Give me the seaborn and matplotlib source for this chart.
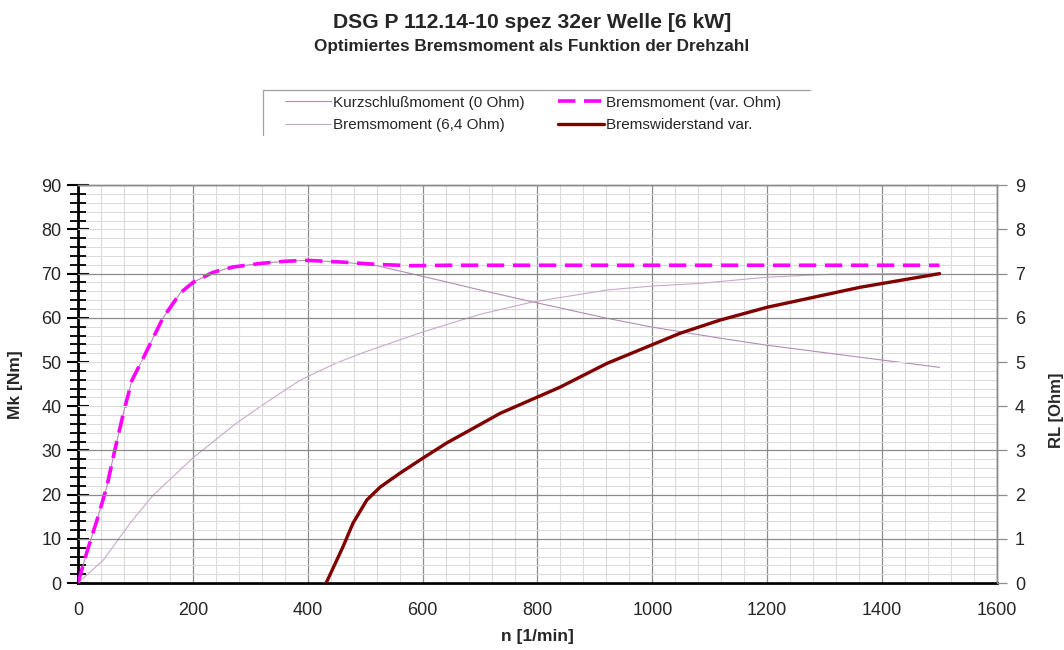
import numpy as np
import pandas as pd
import matplotlib
matplotlib.use("Agg")
import matplotlib.pyplot as plt
from matplotlib.lines import Line2D
from matplotlib.ticker import MultipleLocator
import seaborn as sns

# Bremsmoment bei optimiertem (variablem) Lastwiderstand [Nm]
n_var = [0, 15, 33, 50, 64, 79, 94, 114, 148, 178, 200, 235, 270, 317, 360, 400,
         462, 520, 578, 650, 800, 1000, 1200, 1400, 1500]
m_var = [0, 6.8, 14.2, 21.7, 30.0, 38.4, 45.9, 51.0, 60.0, 65.6, 68.0, 70.3, 71.5,
         72.3, 72.8, 73.0, 72.6, 72.1, 71.8, 71.9, 71.9, 71.9, 71.9, 71.9, 71.9]

# Kurzschlussmoment (0 Ohm) [Nm]
n_ks = [0, 15, 33, 50, 64, 79, 94, 114, 148, 178, 200, 235, 270, 317, 360, 400,
        462, 520, 580, 665, 700, 792, 921, 1000, 1118, 1200, 1361, 1500]
m_ks = [0, 6.8, 14.2, 21.7, 30.0, 38.4, 45.9, 51.0, 60.0, 65.6, 68.0, 70.3, 71.5,
        72.3, 72.8, 73.0, 72.6, 71.8, 70.0, 67.4, 66.3, 63.6, 59.9, 57.9, 55.4,
        53.8, 51.1, 48.8]

# Bremsmoment mit festem Widerstand 6,4 Ohm [Nm]
n_64 = [0, 44, 91, 131, 200, 276, 334, 387, 450, 500, 600, 700, 792, 921, 1000,
        1083, 1200, 1315, 1400, 1500]
m_64 = [0, 5.2, 13.6, 19.9, 28.3, 36.2, 41.4, 45.9, 49.8, 52.3, 56.8, 60.8, 63.6,
        66.3, 67.2, 67.8, 69.2, 69.9, 70.0, 70.1]

# Variabler Bremswiderstand [Ohm]
n_rl = [432, 461, 479, 503, 526, 561, 601, 642, 688, 735, 839, 921, 1048, 1118,
        1200, 1361, 1500]
r_rl = [0, 0.81, 1.36, 1.88, 2.17, 2.49, 2.83, 3.17, 3.5, 3.84, 4.43, 4.97, 5.65,
        5.95, 6.24, 6.69, 7.0]

title = "DSG P 112.14-10 spez 32er Welle [6 kW]"
subtitle = "Optimiertes Bremsmoment als Funktion der Drehzahl"

sns.set_style("white")
plt.rcParams["font.family"] = ["Liberation Sans", "DejaVu Sans"]

fig = plt.figure(figsize=(10.64, 6.5), dpi=100)
ax = fig.add_axes([0.0733, 0.103, 0.8637, 0.612])
ax2 = ax.twinx()

c_ks = "#b48cb4"
c_64 = "#c9a9c9"
c_var = "#ff00ff"
c_rl = "#800000"

df_ks = pd.DataFrame({"n": n_ks, "M": m_ks})
df_64 = pd.DataFrame({"n": n_64, "M": m_64})
df_var = pd.DataFrame({"n": n_var, "M": m_var})
df_rl = pd.DataFrame({"n": n_rl, "R": r_rl})

sns.lineplot(data=df_ks, x="n", y="M", ax=ax, color=c_ks, linewidth=0.8,
             label="Kurzschlußmoment (0 Ohm)", legend=False, zorder=3)
sns.lineplot(data=df_64, x="n", y="M", ax=ax, color=c_64, linewidth=0.8,
             label="Bremsmoment (6,4 Ohm)", legend=False, zorder=3)
sns.lineplot(data=df_var, x="n", y="M", ax=ax, color=c_var, linewidth=2.6,
             label="Bremsmoment (var. Ohm)", legend=False, zorder=4)
ax.lines[-1].set_dashes((4.8, 2.4))
sns.lineplot(data=df_rl, x="n", y="R", ax=ax2, color=c_rl, linewidth=2.4,
             label="Bremswiderstand var.", legend=False, zorder=4)

# Achsenbereiche
ax.set_xlim(0, 1600)
ax.set_ylim(0, 90)
ax2.set_ylim(0, 9)

# Gitter
ax.xaxis.set_major_locator(MultipleLocator(200))
ax.xaxis.set_minor_locator(MultipleLocator(40))
ax.yaxis.set_major_locator(MultipleLocator(10))
ax.yaxis.set_minor_locator(MultipleLocator(2))
ax.grid(which="major", axis="x", color="#8c8c8c", linewidth=0.9)
ax.grid(which="minor", axis="both", color="#dcdcdc", linewidth=0.8)
ax.set_axisbelow(True)

ax2.set_yticks(range(0, 10))
ax2.grid(which="major", axis="y", color="#8c8c8c", linewidth=0.9)
for val, gl in zip(range(0, 10), ax2.yaxis.get_gridlines()):
    if val in (4, 5, 8):
        gl.set_color("#dcdcdc")
        gl.set_linewidth(0.8)
ax2.set_zorder(ax.get_zorder() + 1)
ax2.patch.set_visible(False)
ax.patch.set_visible(True)

# Ticks
ax.tick_params(axis="x", which="major", direction="inout", length=12, width=1.5,
               color="black", labelsize=13, pad=8)
ax.tick_params(axis="x", which="minor", direction="inout", length=8, width=1.3,
               color="black")
ax.tick_params(axis="y", which="major", direction="inout", length=16, width=1.5,
               color="black", labelsize=13, pad=4)
ax.tick_params(axis="y", which="minor", direction="inout", length=11, width=1.3,
               color="black")
ax2.tick_params(axis="y", which="major", direction="out", length=7, width=0.9,
                color="#8c8c8c", labelsize=13, pad=6)

# Rahmen
for s in ("left", "bottom"):
    ax.spines[s].set_color("black")
    ax.spines[s].set_linewidth(2)
for a in (ax, ax2):
    a.spines["top"].set_color("#8c8c8c")
    a.spines["top"].set_linewidth(1)
    a.spines["right"].set_color("#8c8c8c")
    a.spines["right"].set_linewidth(1)
ax2.spines["left"].set_visible(False)
ax2.spines["bottom"].set_visible(False)

ax.set_xlabel("n [1/min]", fontsize=12.5, fontweight="bold")
ax.xaxis.set_label_coords(0.5, -0.115)
ax.set_ylabel("Mk [Nm]", fontsize=12.5, fontweight="bold")
ax.yaxis.set_label_coords(-0.06, 0.5)
ax2.set_ylabel("RL [Ohm]", fontsize=12, fontweight="bold")
ax2.yaxis.set_label_coords(1.057, 0.435)

# Titel
fig.text(0.5, 0.965, title, ha="center", va="center", fontsize=15.2,
         fontweight="bold")
fig.text(0.5, 0.928, subtitle, ha="center", va="center", fontsize=12.3,
         fontweight="bold")

# Legende
handles = [ax.lines[0], ax.lines[1], ax.lines[2], ax2.lines[0]]
labels = [h.get_label() for h in handles]
leg = fig.legend(handles, labels, ncol=2, loc="upper left",
                 bbox_to_anchor=(0.262, 0.862), frameon=False, fontsize=11,
                 handlelength=3.0, handletextpad=0.15, columnspacing=2.2,
                 labelspacing=0.55, borderaxespad=0)
fig.add_artist(Line2D([263 / 1064, 810 / 1064], [1 - 90 / 650, 1 - 90 / 650],
                      transform=fig.transFigure, color="#a0a0a0", linewidth=0.9))
fig.add_artist(Line2D([263 / 1064, 263 / 1064], [1 - 90 / 650, 1 - 135 / 650],
                      transform=fig.transFigure, color="#a0a0a0", linewidth=0.9))

fig.savefig("out.png", dpi=100)
